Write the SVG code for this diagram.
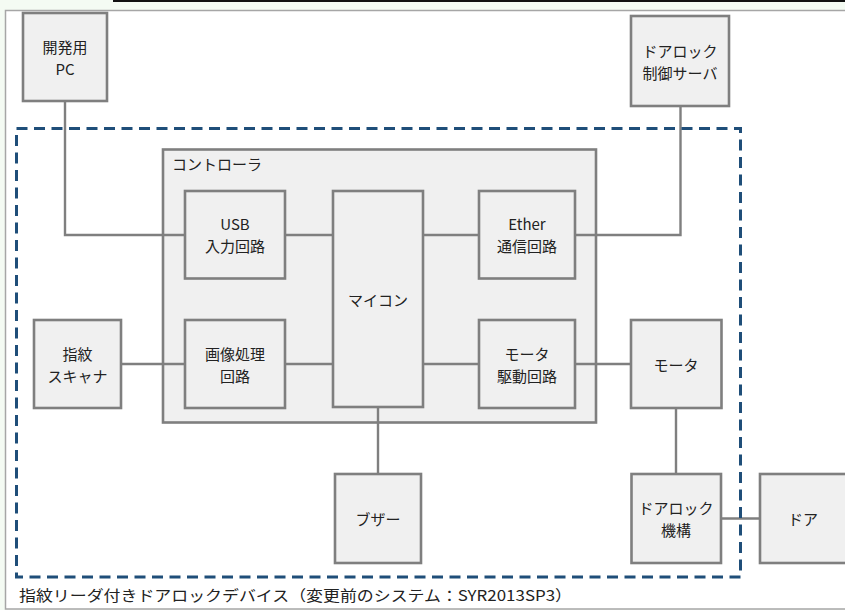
<svg xmlns="http://www.w3.org/2000/svg" width="845" height="610" viewBox="0 0 845 610">
<style>
.box{fill:#f0f0f0;stroke:#7f7f7f;stroke-width:2.6}
.ln{fill:none;stroke:#7f7f7f;stroke-width:2.4}
text{font-family:"Noto Sans CJK JP","Noto Sans",sans-serif;font-size:15px;fill:#222;text-anchor:middle;dominant-baseline:central}
</style>
<rect x="0" y="0" width="845" height="610" fill="#f4fbf3"/>
<line x1="113" y1="1" x2="845" y2="1" stroke="#111" stroke-width="2"/>
<rect x="5.5" y="10.5" width="842" height="598.5" fill="#ffffff" stroke="#a6a6a6" stroke-width="1.5"/>
<g id="controller">
<rect class="box" x="163" y="149.5" width="433" height="273"/>
<text x="172" y="163" style="text-anchor:start">コントローラ</text>
</g>
<g id="connectors">
<polyline class="ln" points="65,101 65,235 185,235"/>
<line class="ln" x1="285" y1="235" x2="333" y2="235"/>
<line class="ln" x1="121" y1="364" x2="185" y2="364"/>
<line class="ln" x1="285" y1="364" x2="333" y2="364"/>
<line class="ln" x1="423" y1="235" x2="479" y2="235"/>
<polyline class="ln" points="575,235 680.5,235 680.5,106"/>
<line class="ln" x1="423" y1="364" x2="479" y2="364"/>
<line class="ln" x1="575" y1="364" x2="631" y2="364"/>
<line class="ln" x1="676" y1="408" x2="676" y2="474"/>
<line class="ln" x1="378" y1="407" x2="378" y2="474"/>
<line class="ln" x1="721" y1="518.5" x2="760" y2="518.5"/>
</g>
<g id="pc"><rect class="box" x="23" y="13" width="84" height="88"/><text x="65" y="46">開発用</text><text x="65" y="68">PC</text></g>
<g id="server"><rect class="box" x="631" y="16" width="98" height="90"/><text x="680" y="50">ドアロック</text><text x="680" y="72">制御サーバ</text></g>
<g id="usb"><rect class="box" x="185" y="191" width="100" height="87.5"/><text x="235" y="223.5">USB</text><text x="235" y="245.5">入力回路</text></g>
<g id="image"><rect class="box" x="185" y="320" width="100" height="88"/><text x="235" y="353">画像処理</text><text x="235" y="375">回路</text></g>
<g id="mcu"><rect class="box" x="333" y="191" width="90" height="216"/><text x="378" y="299">マイコン</text></g>
<g id="ether"><rect class="box" x="479" y="191" width="96" height="87.5"/><text x="527" y="223.5">Ether</text><text x="527" y="245.5">通信回路</text></g>
<g id="motordrv"><rect class="box" x="479" y="320" width="96" height="88"/><text x="527" y="353">モータ</text><text x="527" y="375">駆動回路</text></g>
<g id="scanner"><rect class="box" x="34" y="320" width="87" height="88"/><text x="77.5" y="353">指紋</text><text x="77.5" y="375">スキャナ</text></g>
<g id="motor"><rect class="box" x="631" y="320" width="90.5" height="88"/><text x="676" y="364">モータ</text></g>
<g id="buzzer"><rect class="box" x="335" y="474" width="86" height="89"/><text x="378" y="518.5">ブザー</text></g>
<g id="doorlock"><rect class="box" x="631.5" y="474" width="89.5" height="89"/><text x="676" y="507.5">ドアロック</text><text x="676" y="529.5">機構</text></g>
<g id="door"><rect class="box" x="760" y="474" width="90" height="89"/><text x="803" y="518.5">ドア</text></g>
<g id="boundary">
<rect x="16.5" y="128.5" width="724" height="448.5" fill="none" stroke="#1f4e79" stroke-width="3" stroke-dasharray="11 6.5"/>
</g>
<text x="19" y="594" style="text-anchor:start" textLength="553" lengthAdjust="spacingAndGlyphs">指紋リーダ付きドアロックデバイス（変更前のシステム：SYR2013SP3）</text>
</svg>
